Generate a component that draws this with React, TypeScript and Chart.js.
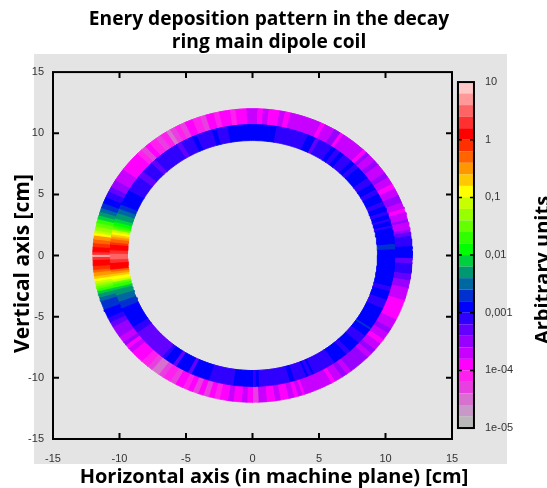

import React, { useEffect, useRef } from "react";
import { Chart, registerables } from "chart.js";
Chart.register(...registerables);

const titleLines = ["Enery deposition pattern in the decay", "ring main dipole coil"];
const xTitle = "Horizontal axis (in machine plane) [cm]";
const yTitle = "Vertical axis [cm]";
const barTitle = "Arbitrary units";
const axisTicks = [-15, -10, -5, 0, 5, 10, 15];
const barTicks = [10, 1, 0.1, 0.01, 0.001, 1e-4, 1e-5];
const barTickLabels = ["10", "1", "0,1", "0,01", "0,001", "1e-04", "1e-05"];

// colour bands, lowest first; each spans 0.2 decades starting at 1e-5
const bandColors = [
  "#b8b8b8", "#c898c8", "#d870d0", "#e840e0", "#ff20f0", "#ff00ff", "#c800ff", "#9800ff", "#6400ff", "#3000ff",
  "#0000ff", "#0030d0", "#0068a0", "#009870", "#00d040", "#00ff00", "#30ff00", "#64ff00", "#98ff00", "#c8ff00",
  "#ffff00", "#ffc800", "#ff9800", "#ff6400", "#ff3000", "#ff0000", "#ff3030", "#ff6464", "#ff9898", "#ffc8c8",
];

// ring radii in cm
const innerRadius = 9.4;
const middleRadius = 10.7;
const outerRadius = 12;

// sector end angles (deg, counter-clockwise from +x) and log10 of the deposit
const outerEnds = [3.5,7.5,9,10,13,14,17,18.5,21,24,27,29,32,34,38,40,43,44.5,46,55.2,56.5,59,63,64.5,76,78,80,84,86,88,92,96,98,102,104,107,109,112,115,117,119,121,122.5,125,127,130,132,134,136,144,149,152,154,156.5,159,161,162.5,164,165.5,167,168.5,170,171,172,173.5,175,176.5,178.5,179.7,180.3,181.5,184,185.5,186.5,188,189,190,191,192,193,194,195,196.5,198,201.5,205,207,209,213.5,216,217.5,219,221,226,229,231,234,236,239,241,244,246,248,250,252,254,256,258,261,263,266,268,270,272,275,278,280,283,285,286.5,288,289,299.5,301,304,306,308,316,318,320,323,325,328,330,334,342,347,350,352.6,356.7,358.8,360];
const outerLog = [-2.9,-3.1,-3.3,-3.5,-3.7,-3.5,-3.7,-3.9,-3.7,-3.5,-3.7,-3.9,-3.7,-3.5,-3.7,-3.5,-3.7,-3.5,-3.9,-3.7,-3.9,-3.5,-3.7,-3.9,-3.7,-3.9,-3.7,-3.9,-3.7,-3.9,-3.7,-3.9,-4.1,-3.9,-4.1,-3.9,-4.3,-4.1,-3.9,-4.3,-4.1,-4.3,-4.5,-4.1,-4.3,-4.1,-3.9,-4.3,-4.1,-3.9,-3.7,-3.5,-3.3,-3.1,-2.9,-2.7,-2.5,-2.3,-2.1,-1.7,-1.5,-1.3,-1.1,-0.9,-0.5,-0.3,-0.1,0.1,0.3,0.9,0.3,0.1,-0.1,-0.3,-0.5,-0.7,-0.9,-1.1,-1.3,-1.5,-1.7,-2.1,-2.3,-2.5,-2.7,-2.9,-3.1,-3.3,-3.5,-3.7,-3.5,-3.9,-3.7,-3.9,-4.1,-4.3,-4.5,-4.3,-4.1,-4.3,-3.9,-4.1,-3.9,-4.3,-3.9,-4.3,-3.9,-4.1,-3.9,-3.7,-3.9,-3.7,-3.9,-4.3,-3.7,-3.9,-3.7,-3.9,-3.7,-3.9,-3.7,-3.9,-3.7,-3.9,-3.7,-3.5,-3.7,-3.5,-3.7,-3.5,-3.7,-3.9,-3.7,-3.5,-3.7,-3.9,-3.7,-3.5,-3.3,-3.1,-3.3,-2.9];
const innerEnds = [2.5,4.8,12,13,15,16,18,19.5,22,24,28,30,33,36,42,44,46,50,52,54,56,62,63.5,67,80,83,100,104.5,106.5,113,115,120,122,133,135,140,143,146,150,157,159,161,163.5,165,166.5,167.5,168.5,169.5,170.5,171.5,172.5,174,175,177.5,179,181.5,183,186,187,188,189,190.5,191.5,192.5,194,195,197.5,200.5,203.5,213,216,222,230.5,232,236,237.5,243,244.5,252,262,270,271,272.5,285,287,292,293,294.5,295.5,305,311,313,318,322,325.4,326.2,336,340,344,346,360];
const innerLog = [-2.9,-2.7,-2.9,-3.1,-2.9,-3.1,-2.9,-3.1,-2.9,-3.1,-2.9,-3.1,-2.9,-3.1,-2.9,-3.1,-2.9,-3.1,-2.9,-3.1,-2.9,-3.1,-3.3,-2.9,-3.1,-2.9,-2.9,-3.1,-2.9,-3.1,-2.9,-3.1,-3.3,-3.1,-3.3,-3.1,-3.3,-3.1,-3.1,-2.9,-2.7,-2.5,-2.3,-2.1,-1.9,-1.7,-1.5,-1.1,-0.9,-0.7,-0.5,-0.3,-0.1,0.1,0.3,0.5,0.3,0.1,-0.3,-0.5,-0.7,-0.9,-1.1,-1.5,-1.7,-2.1,-2.3,-2.5,-2.7,-2.9,-3.1,-3.3,-3.3,-3.1,-2.9,-3.3,-2.9,-3.3,-2.9,-3.1,-2.9,-3.1,-2.9,-3.1,-2.9,-3.1,-2.9,-3.1,-2.9,-3.1,-2.9,-3.1,-2.9,-3.1,-2.9,-2.7,-2.9,-3.1,-2.9,-3.1,-2.9];

const BAR_X = 16.05; // colour bar position on the x scale
const BAR_W = 16;

const colorOf = (log: number) => bandColors[Math.max(0, Math.min(29, Math.floor((log + 5) / 0.2)))];
const rad = (d: number) => (d * Math.PI) / 180;

// The outline of one sector. Chart.js clips a "shape" fill to the x range between
// the first and last point, so the path starts at the leftmost corner and ends at the rightmost.
function arcCell(r0: number, r1: number, a0: number, a1: number) {
  const ring: { x: number; y: number }[] = [];
  const n = Math.max(1, Math.ceil(a1 - a0));
  for (let i = 0; i <= n; i++) {
    const a = rad(a0 + ((a1 - a0) * i) / n);
    ring.push({ x: r0 * Math.cos(a), y: r0 * Math.sin(a) });
  }
  for (let i = n; i >= 0; i--) {
    const a = rad(a0 + ((a1 - a0) * i) / n);
    ring.push({ x: r1 * Math.cos(a), y: r1 * Math.sin(a) });
  }
  let lo = 0;
  ring.forEach((p, i) => { if (p.x < ring[lo].x) lo = i; });
  const turned = [...ring.slice(lo), ...ring.slice(0, lo)];
  let hi = 0;
  turned.forEach((p, i) => { if (p.x > turned[hi].x) hi = i; });
  return [...turned, turned[0], ...turned.slice(1, hi + 1)];
}

function ringDatasets(r0: number, r1: number, ends: number[], logs: number[]) {
  return ends.map((end, i) => {
    const c = colorOf(logs[i]);
    return {
      type: "scatter",
      data: arcCell(r0, r1, i === 0 ? 0 : ends[i - 1], end),
      showLine: true,
      fill: "shape",
      backgroundColor: c,
      borderColor: c,
      borderWidth: 0.8,
      pointRadius: 0,
      tension: 0,
      xAxisID: "x",
      yAxisID: "y",
    };
  });
}

const barDatasets = () =>
  bandColors.map((c, i) => ({
    type: "scatter",
    data: [
      { x: BAR_X, y: Math.pow(10, -5 + i * 0.2) },
      { x: BAR_X, y: Math.pow(10, -5 + (i + 1) * 0.2) },
    ],
    showLine: true,
    borderColor: c,
    borderWidth: BAR_W,
    pointRadius: 0,
    clip: false,
    xAxisID: "x",
    yAxisID: "cb",
  }));

const offsetTitle = (s: any, dx: number, dy: number) => {
  if (s.__offset) return;
  s.__offset = true;
  const draw = s.drawTitle;
  s.drawTitle = function () {
    this.ctx.save();
    this.ctx.translate(dx, dy);
    draw.call(this);
    this.ctx.restore();
  };
};

const framePlugin = {
  id: "frame",
  beforeDraw(chart: any) {
    const ctx = chart.ctx;
    ctx.save();
    ctx.fillStyle = "#e4e4e4";
    ctx.fillRect(34, 54, 473, 410);
    ctx.restore();
  },
  beforeDatasetsDraw(chart: any) {
    const ctx = chart.ctx;
    ctx.save();
    ctx.fillStyle = "#ffffff";
    ctx.fillRect(0, 464, 547, 3);
    ctx.fillStyle = "#e4e4e4";
    ctx.fillRect(34, 54, 473, 3);
    ctx.restore();
  },
  afterDraw(chart: any) {
    const { ctx, chartArea: a, scales } = chart;
    ctx.save();
    ctx.strokeStyle = "#000";
    ctx.lineWidth = 2;
    ctx.strokeRect(a.left, a.top, a.right - a.left, a.bottom - a.top);
    ctx.beginPath();
    for (const t of axisTicks.slice(1, -1)) {
      const px = scales.x.getPixelForValue(t);
      ctx.moveTo(px, a.bottom);
      ctx.lineTo(px, a.bottom - 6);
      ctx.moveTo(px, a.top);
      ctx.lineTo(px, a.top + 6);
      const py = scales.y.getPixelForValue(t);
      ctx.moveTo(a.left, py);
      ctx.lineTo(a.left + 6, py);
      ctx.moveTo(a.right, py);
      ctx.lineTo(a.right - 6, py);
    }
    ctx.stroke();
    // colour bar frame and ticks
    const cx = scales.x.getPixelForValue(BAR_X);
    const l = cx - BAR_W / 2, r = cx + BAR_W / 2;
    const t = scales.cb.getPixelForValue(10), b = scales.cb.getPixelForValue(1e-5);
    ctx.strokeRect(l, t, r - l, b - t);
    ctx.lineWidth = 1.5;
    ctx.beginPath();
    for (const v of barTicks.slice(1, -1)) {
      const py = scales.cb.getPixelForValue(v);
      ctx.moveTo(l, py);
      ctx.lineTo(l + 4, py);
      ctx.moveTo(r, py);
      ctx.lineTo(r - 4, py);
    }
    ctx.stroke();
    // rotated caption, cut by the window edge as in the source image
    ctx.translate(549, 270);
    ctx.rotate(-Math.PI / 2);
    ctx.fillStyle = "#000";
    ctx.font = "bold 20px 'Open Sans'";
    ctx.textAlign = "center";
    ctx.textBaseline = "alphabetic";
    ctx.fillText(barTitle, 0, 0);
    ctx.restore();
  },
};

const tickFont = { family: "'Liberation Sans'", size: 11 };
const fontAt = (size: number) => ({ family: "'Open Sans'", size, weight: "bold" as const });

export default function App() {
  const ref = useRef<HTMLCanvasElement>(null);
  useEffect(() => {
    document.body.style.margin = "0";
    const chart = new Chart(ref.current!, {
      type: "scatter",
      data: {
        datasets: [
          ...ringDatasets(innerRadius, middleRadius, innerEnds, innerLog),
          ...ringDatasets(middleRadius, outerRadius, outerEnds, outerLog),
          ...barDatasets(),
        ] as any,
      },
      plugins: [framePlugin],
      options: {
        responsive: false,
        animation: false,
        layout: { padding: { right: 9 } },
        plugins: {
          legend: { display: false },
          tooltip: { enabled: false },
          title: {
            display: true,
            text: titleLines,
            color: "#000",
            font: fontAt(19.2),
            padding: { top: 8, bottom: 18 },
          },
        },
        scales: {
          x: {
            type: "linear",
            min: -15,
            max: 15,
            grid: { display: false, drawTicks: false },
            border: { display: false },
            afterBuildTicks: (s: any) => { s.ticks = axisTicks.map((value) => ({ value })); },
            afterFit: (s: any) => { s.height = 49; offsetTitle(s, 21.5, 1); },
            ticks: { font: tickFont, color: "#333", padding: 13, maxRotation: 0, callback: (v: any) => String(v) },
            title: { display: true, text: xTitle, color: "#000", font: fontAt(20), padding: 0 },
          },
          y: {
            type: "linear",
            min: -15,
            max: 15,
            grid: { display: false, drawTicks: false },
            border: { display: false },
            afterBuildTicks: (s: any) => { s.ticks = axisTicks.map((value) => ({ value })); },
            afterFit: (s: any) => { s.width = 53; offsetTitle(s, 0, 8); },
            ticks: { font: tickFont, color: "#333", padding: 9, callback: (v: any) => String(v) },
            title: { display: true, text: yTitle, color: "#000", font: fontAt(21), padding: { top: 10, bottom: 0 } },
          },
          cb: {
            type: "logarithmic",
            position: "right",
            min: Math.pow(10, -5.19),
            max: Math.pow(10, 1.173),
            grid: { display: false, drawTicks: false },
            border: { display: false },
            afterBuildTicks: (s: any) => { s.ticks = barTicks.map((value) => ({ value })); },
            afterFit: (s: any) => { s.width = 86; },
            ticks: {
              font: tickFont,
              color: "#333",
              padding: 33,
              autoSkip: false,
              callback: (v: any) => barTickLabels[barTicks.indexOf(v)] ?? "",
            },
          },
        },
      } as any,
    });
    return () => chart.destroy();
  }, []);
  return <canvas ref={ref} width={547} height={488} style={{ display: "block" }} />;
}
